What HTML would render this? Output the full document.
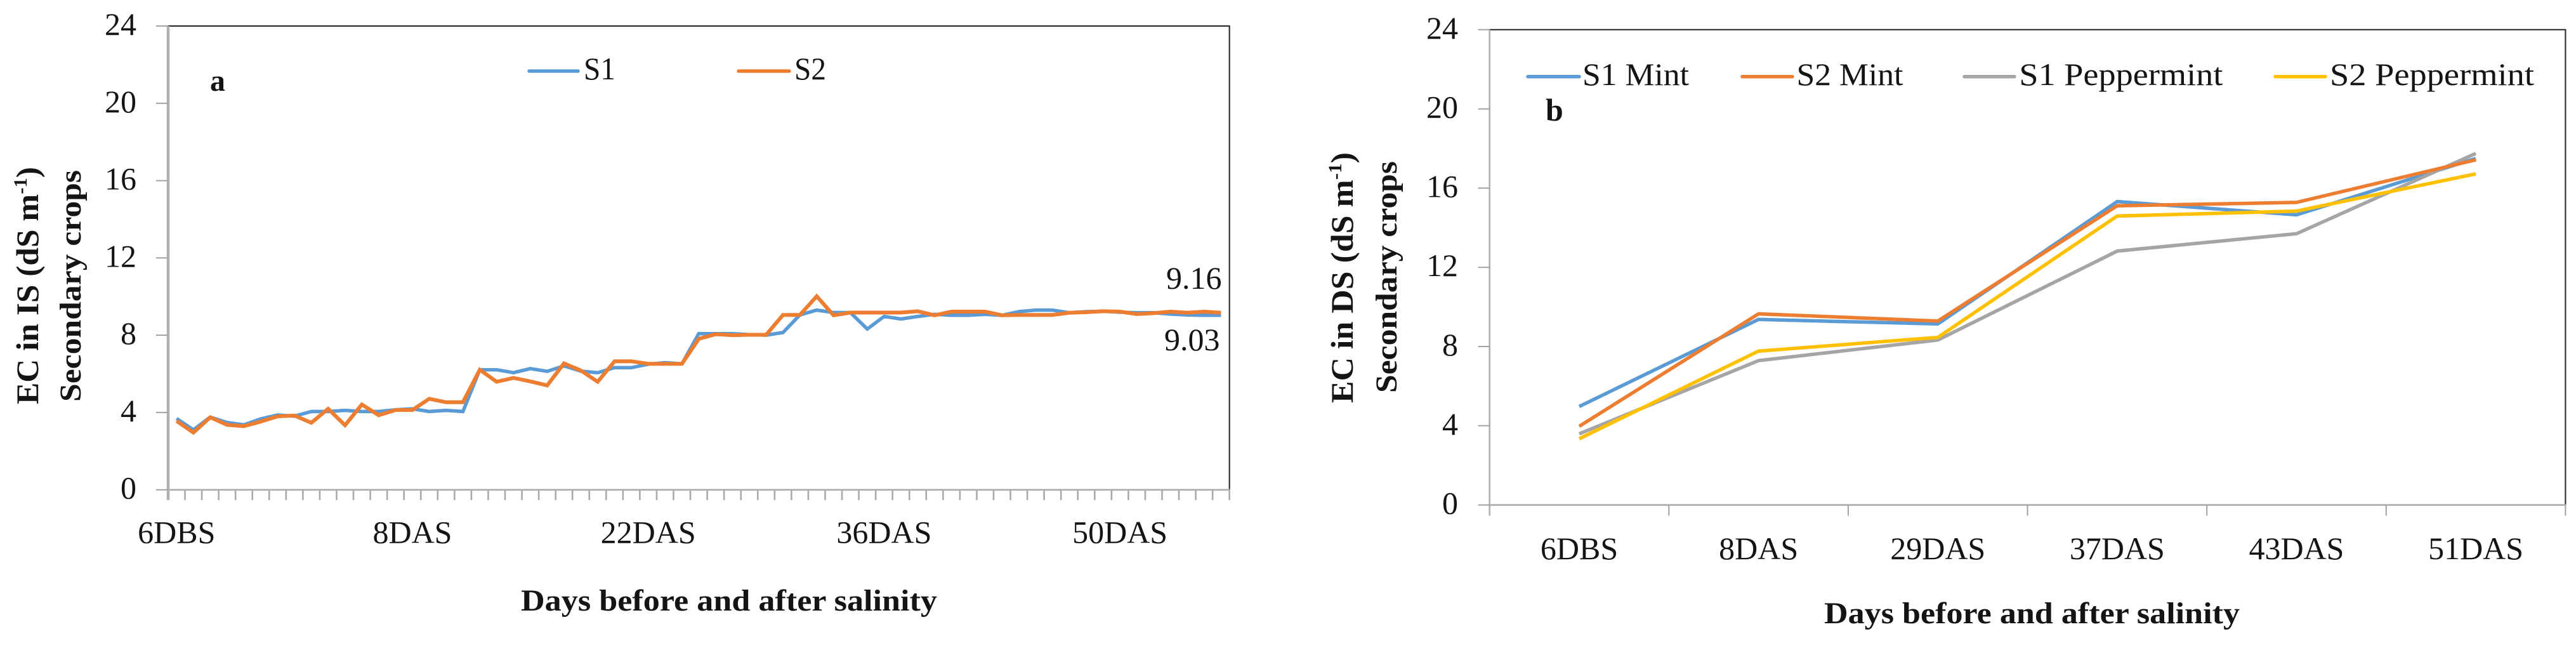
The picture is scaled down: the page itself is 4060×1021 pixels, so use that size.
<!DOCTYPE html>
<html lang="en">
<head>
<meta charset="utf-8">
<title>EC in IS and DS for secondary crops</title>
<style>
html,body{margin:0;padding:0;background:#fff;width:4060px;height:1021px;overflow:hidden}
svg{display:block;position:absolute;left:0;top:0}
text{font-family:"Liberation Serif",serif;fill:#141414}
.bold{font-weight:bold}
</style>
</head>
<body>
<svg id="figure" xmlns="http://www.w3.org/2000/svg" width="4060" height="1021" viewBox="0 0 4060 1021">
  <g id="chart-a">
    <text class="bold" x="331" y="143" font-size="48">a</text>
    <text class="bold" font-size="50" transform="translate(60,637) rotate(-90)" textLength="374" lengthAdjust="spacingAndGlyphs">EC in IS (dS m<tspan font-size="30" dy="-18">-1</tspan><tspan dy="18">)</tspan></text>
    <text class="bold" font-size="48" transform="translate(127,633) rotate(-90)" textLength="365" lengthAdjust="spacingAndGlyphs">Secondary crops</text>
    <text class="bold" font-size="48" x="821" y="962" textLength="656" lengthAdjust="spacingAndGlyphs">Days before and after salinity</text>
    <text font-size="50" x="1838" y="455">9.16</text>
    <text font-size="50" x="1835" y="552">9.03</text>
  </g>
  <g id="chart-b">
    <text class="bold" x="2436" y="190" font-size="50">b</text>
    <text class="bold" font-size="50" transform="translate(2132,635) rotate(-90)" textLength="395" lengthAdjust="spacingAndGlyphs">EC in DS (dS m<tspan font-size="30" dy="-18">-1</tspan><tspan dy="18">)</tspan></text>
    <text class="bold" font-size="48" transform="translate(2201,619) rotate(-90)" textLength="365" lengthAdjust="spacingAndGlyphs">Secondary crops</text>
    <text class="bold" font-size="48" x="2875" y="982" textLength="655" lengthAdjust="spacingAndGlyphs">Days before and after salinity</text>
  </g>
</svg>
<script>
// ---- chart a data ----
const yTicksA = [0, 4, 8, 12, 16, 20, 24];
const xLabelsA = ['6DBS', '8DAS', '22DAS', '36DAS', '50DAS'];
const labelEveryA = 14;
const s1A = [3.69,3.10,3.76,3.48,3.36,3.67,3.87,3.81,4.05,4.05,4.11,4.05,4.05,4.14,4.19,4.05,4.11,4.05,
  6.21,6.21,6.06,6.27,6.13,6.41,6.14,6.06,6.32,6.32,6.50,6.58,6.52,8.08,8.08,8.08,8.03,8.00,8.14,
  9.05,9.30,9.17,9.17,8.32,8.97,8.84,8.97,9.08,9.03,9.03,9.08,9.03,9.22,9.30,9.30,9.16,9.22,9.24,
  9.19,9.16,9.16,9.09,9.05,9.03,9.03];
const s2A = [3.56,2.96,3.75,3.36,3.29,3.53,3.80,3.84,3.47,4.19,3.34,4.41,3.86,4.13,4.13,4.71,4.53,4.53,
  6.21,5.59,5.79,5.61,5.40,6.54,6.17,5.59,6.65,6.65,6.52,6.52,6.52,7.81,8.05,8.00,8.02,8.02,9.05,
  9.05,10.01,9.03,9.17,9.17,9.17,9.17,9.24,9.03,9.22,9.22,9.22,9.03,9.05,9.05,9.05,9.16,9.19,9.24,
  9.22,9.09,9.14,9.22,9.16,9.22,9.16];
const legendA = ['S1', 'S2'];

// ---- chart b data ----
const yTicksB = [0, 4, 8, 12, 16, 20, 24];
const categoriesB = ['6DBS', '8DAS', '29DAS', '37DAS', '43DAS', '51DAS'];
const s1MintB = [4.97, 9.37, 9.14, 15.32, 14.65, 17.50];
const s2MintB = [3.97, 9.65, 9.29, 15.11, 15.28, 17.43];
const s1PepB = [3.59, 7.29, 8.33, 12.82, 13.70, 17.75];
const s2PepB = [3.34, 7.77, 8.46, 14.59, 14.84, 16.72];
const legendB = ['S1 Mint', 'S2 Mint', 'S1 Peppermint', 'S2 Peppermint'];

const NS = 'http://www.w3.org/2000/svg';
function mk(tag, attrs, parent) {
  const el = document.createElementNS(NS, tag);
  for (const k in attrs) el.setAttribute(k, attrs[k]);
  parent.appendChild(el);
  return el;
}

const BLUE = '#5B9BD5', ORANGE = '#ED7D31', GREY = '#A5A5A5', GOLD = '#FFC000';

function drawFrame(g, box, axisWidth, tickBottom, tickLeft) {
  const bg = mk('rect', {x: box.l, y: box.t, width: box.r - box.l, height: box.b - box.t, fill: 'none', stroke: 'none'}, g);
  
  
  const top = mk('line', {x1: box.l, x2: box.r + 1, y1: box.t, y2: box.t, stroke: '#222', 'stroke-width': 2}, g);
  
  
  const right = mk('line', {x1: box.r, x2: box.r, y1: box.t, y2: box.b, stroke: '#333', 'stroke-width': 2.2}, g);
  
  
  const xAxis = mk('line', {x1: box.l, x2: box.r + 1, y1: box.b, y2: box.b, stroke: '#aaa', 'stroke-width': 2.5}, g);
  
  
  const yAxis = mk('line', {x1: box.l, x2: box.l, y1: box.t, y2: tickBottom, stroke: '#b0b0b0', 'stroke-width': axisWidth}, g);
  
  
}

function drawYTicks(g, ticks, yOf, box, tickLeft, labelRight) {
  ticks.forEach(function (v) {
    const tick = mk('line', {x1: tickLeft, x2: box.l, y1: yOf(v), y2: yOf(v), stroke: '#a0a0a0', 'stroke-width': 2}, g);
    
    
    const label = mk('text', {x: labelRight, y: yOf(v) + 14, 'text-anchor': 'end', 'font-size': 50}, g);
    
    
    label.textContent = v;
  });
}

function drawSeries(g, values, xOf, yOf, color, width, name) {
  const pts = values.map(function (v, i) { return xOf(i).toFixed(1) + ',' + yOf(v).toFixed(1); }).join(' ');
  const line = mk('polyline', {points: pts, fill: 'none', stroke: color, 'stroke-width': width, 'stroke-linejoin': 'miter'}, g);
  
  
}

function drawLegendEntry(g, name, color, x1, x2, y, textX, baseline, size, textWidth) {
  const key = mk('line', {x1: x1, x2: x2, y1: y, y2: y, stroke: color, 'stroke-width': 5.5, 'stroke-linecap': 'round'}, g);
  
  
  const t = mk('text', {x: textX, y: baseline, 'font-size': size, textLength: textWidth, lengthAdjust: 'spacingAndGlyphs'}, g);
  
  
  t.textContent = name;
}

// ---- chart a ----
(function () {
  const g = document.getElementById('chart-a');
  const box = {l: 265, r: 1937.7, t: 41, b: 771.7};
  const n = s1A.length;
  const step = (box.r - box.l) / n;
  const xOf = function (i) { return box.l + step * (i + 0.5); };
  const yOf = function (v) { return box.b - (v / 24) * (box.b - box.t); };
  drawFrame(g, box, 4.5, 788, 246);
  for (let i = 1; i <= n; i++) {
    const t = mk('line', {x1: box.l + step * i, x2: box.l + step * i, y1: box.b, y2: 788, stroke: '#aaa', 'stroke-width': 2.6}, g);
    
    
  }
  drawYTicks(g, yTicksA, yOf, box, 246, 215);
  xLabelsA.forEach(function (lab, k) {
    const t = mk('text', {x: xOf(k * labelEveryA), y: 855.7, 'text-anchor': 'middle', 'font-size': 50}, g);
    
    
    t.textContent = lab;
  });
  drawSeries(g, s1A, xOf, yOf, BLUE, 5.5, 'series-s1');
  drawSeries(g, s2A, xOf, yOf, ORANGE, 6, 'series-s2');
  drawLegendEntry(g, legendA[0], BLUE, 834, 911, 112, 920, 125, 50, 50);
  drawLegendEntry(g, legendA[1], ORANGE, 1164, 1244, 112, 1252, 125, 50, 50);
})();

// ---- chart b ----
(function () {
  const g = document.getElementById('chart-b');
  const box = {l: 2347.7, r: 4043.4, t: 46.8, b: 795.6};
  const n = categoriesB.length;
  const step = (box.r - box.l) / n;
  const xOf = function (i) { return box.l + step * (i + 0.5); };
  const yOf = function (v) { return box.b - (v / 24) * (box.b - box.t); };
  drawFrame(g, box, 2.6, 812.5, 2329.6);
  for (let i = 1; i <= n; i++) {
    const t = mk('line', {x1: box.l + step * i, x2: box.l + step * i, y1: box.b, y2: 812.5, stroke: '#a0a0a0', 'stroke-width': 2}, g);
    
    
  }
  drawYTicks(g, yTicksB, yOf, box, 2329.6, 2298);
  categoriesB.forEach(function (lab, i) {
    const t = mk('text', {x: xOf(i), y: 881, 'text-anchor': 'middle', 'font-size': 50}, g);
    
    
    t.textContent = lab;
  });
  drawSeries(g, s1MintB, xOf, yOf, BLUE, 5.5, 'series-s1-mint');
  drawSeries(g, s1PepB, xOf, yOf, GREY, 5.5, 'series-s1-peppermint');
  drawSeries(g, s2MintB, xOf, yOf, ORANGE, 5.5, 'series-s2-mint');
  drawSeries(g, s2PepB, xOf, yOf, GOLD, 5.5, 'series-s2-peppermint');
  drawLegendEntry(g, legendB[0], BLUE, 2408, 2489, 120.7, 2494, 134, 50, 168);
  drawLegendEntry(g, legendB[1], ORANGE, 2746, 2825, 120.7, 2831.5, 134, 50, 168);
  drawLegendEntry(g, legendB[2], GREY, 3096, 3175, 120.7, 3182.4, 134, 50, 321);
  drawLegendEntry(g, legendB[3], GOLD, 3586, 3665, 120.7, 3672, 134, 50, 322);
})();
</script>
</body>
</html>
